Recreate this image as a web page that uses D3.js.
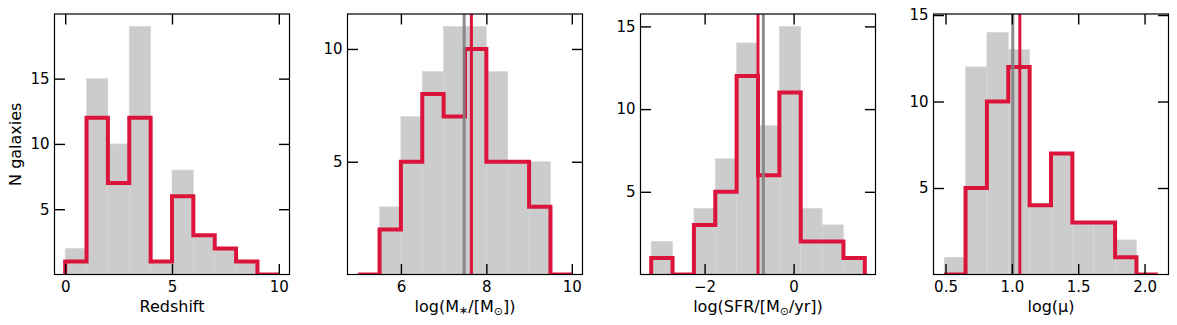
<!DOCTYPE html>
<html>
<head>
<meta charset="utf-8">
<script src="https://cdn.jsdelivr.net/npm/d3@7"></script>
<style>
body { margin: 0; background: #fff; }
text { font-family: "DejaVu Sans", sans-serif; fill: #000; }
.tick text { font-size: 15px; font-family: "DejaVu Sans", sans-serif; }
.axis-label { font-size: 16px; }
</style>
</head>
<body>
<svg width="1177" height="325"></svg>
<script>
//Bin edges and counts: gray = whole sample, red = selected sample.
var zEdges = [0, 1, 2, 3, 4, 5, 6, 7, 8, 9, 10];
var zAll = [2, 15, 10, 19, 1, 8, 3, 2, 1, 0];
var zSel = [1, 12, 7, 12, 1, 6, 3, 2, 1, 0];

var mEdges = [5, 5.5, 6, 6.5, 7, 7.5, 8, 8.5, 9, 9.5, 10];
var mAll = [0, 3, 7, 9, 11, 11, 9, 5, 5, 0];
var mSel = [0, 2, 5, 8, 7, 10, 5, 5, 3, 0];

var sEdges = [-3.2, -2.72, -2.24, -1.76, -1.28, -0.8, -0.32, 0.16, 0.64, 1.12, 1.6];
var sAll = [2, 0, 4, 7, 14, 9, 15, 4, 3, 1];
var sSel = [1, 0, 3, 5, 12, 6, 11, 2, 2, 1];

var uEdges = [0.49, 0.651, 0.812, 0.973, 1.134, 1.295, 1.456, 1.617, 1.778, 1.939, 2.1];
var uAll = [1, 12, 14, 13, 4, 7, 3, 3, 2, 0];
var uSel = [0, 5, 10, 12, 4, 7, 3, 3, 1, 0];

//Medians: [whole sample, selected]; null where not drawn.
var medians = [null, [7.48, 7.65], [-0.68, -0.80], [1.007, 1.06]];

//Axis limits and ticks.
var yMax = [19.95, 11.55, 15.75, 15.06];
var xTicks = [[0, 5, 10], [6, 8, 10], [-2, 0], [0.5, 1.0, 1.5, 2.0]];
var xTickLabels = [['0', '5', '10'], ['6', '8', '10'], ['\u22122', '0'], ['0.5', '1.0', '1.5', '2.0']];
var yTicks = [[5, 10, 15], [5, 10], [5, 10, 15], [5, 10, 15]];

var panels = [
	{edges: zEdges, all: zAll, sel: zSel},
	{edges: mEdges, all: mAll, sel: mSel},
	{edges: sEdges, all: sAll, sel: sSel},
	{edges: uEdges, all: uAll, sel: uSel}
];

var svg = d3.select('svg');
var crimson = '#dc143c';
var lefts = [54.5, 347.5, 640.5, 933.5];
var marginTop = 14, w = 235, h = 260.5;

panels.forEach(function(p, k) {
	var lo = p.edges[0], hi = p.edges[p.edges.length - 1], pad = 0.05 * (hi - lo);
	var x = d3.scaleLinear().domain([lo - pad, hi + pad]).range([0, w]);
	var y = d3.scaleLinear().domain([0, yMax[k]]).range([h, 0]);

	var g = svg.append('g').attr('transform', 'translate(' + lefts[k] + ',' + marginTop + ')');

	g.append('clipPath').attr('id', 'clip' + k)
		.append('rect').attr('width', w).attr('height', h);
	var plot = g.append('g').attr('clip-path', 'url(#clip' + k + ')');

	//Gray histogram.
	plot.selectAll('rect.bar')
		.data(p.all)
		.enter().append('rect')
		.attr('class', 'bar')
		.attr('x', function(d, i) { return x(p.edges[i]); })
		.attr('width', function(d, i) { return x(p.edges[i + 1]) - x(p.edges[i]); })
		.attr('y', function(d) { return y(d); })
		.attr('height', function(d) { return h - y(d); })
		.style('fill', '#cccccc')
		.style('stroke', '#d6d6d6')
		.style('stroke-width', 0.6);

	//Red step outline.
	var pts = [[p.edges[0], 0]];
	p.sel.forEach(function(c, i) {
		pts.push([p.edges[i], c]);
		pts.push([p.edges[i + 1], c]);
	});
	pts.push([p.edges[p.edges.length - 1], 0]);
	plot.append('path')
		.datum(pts)
		.attr('d', d3.line().x(function(d) { return x(d[0]); }).y(function(d) { return y(d[1]); }))
		.style('fill', 'none')
		.style('stroke', crimson)
		.style('stroke-width', 4)
		.style('stroke-linejoin', 'miter');

	//Median lines.
	if (medians[k]) {
		plot.append('line')
			.attr('x1', x(medians[k][0])).attr('x2', x(medians[k][0]))
			.attr('y1', 0).attr('y2', h)
			.style('stroke', '#7f7f7f')
			.style('stroke-width', 3)
			.style('stroke-opacity', 0.9);
		plot.append('line')
			.attr('x1', x(medians[k][1])).attr('x2', x(medians[k][1]))
			.attr('y1', 0).attr('y2', h)
			.style('stroke', crimson)
			.style('stroke-width', 3);
	}

	//Axes with inward ticks on all four sides.
	var fmt = function(d, i) { return xTickLabels[k][i]; };
	g.append('g').attr('transform', 'translate(0,' + h + ')')
		.call(d3.axisBottom(x).tickValues(xTicks[k]).tickFormat(fmt).tickSizeInner(-10.5).tickSizeOuter(0).tickPadding(7));
	g.append('g')
		.call(d3.axisTop(x).tickValues(xTicks[k]).tickFormat('').tickSizeInner(-10.5).tickSizeOuter(0));
	g.append('g')
		.call(d3.axisLeft(y).tickValues(yTicks[k]).tickFormat(d3.format('d')).tickSizeInner(-10.5).tickSizeOuter(0).tickPadding(5));
	g.append('g').attr('transform', 'translate(' + w + ',0)')
		.call(d3.axisRight(y).tickValues(yTicks[k]).tickFormat('').tickSizeInner(-10.5).tickSizeOuter(0));
	g.selectAll('.domain').remove();
	g.selectAll('.tick line').style('stroke-width', 1.4);

	g.append('rect')
		.attr('width', w).attr('height', h)
		.style('fill', 'none').style('stroke', '#000').style('stroke-width', 1.2);

	//x label.
	var lab = g.append('text').attr('class', 'axis-label')
		.attr('x', w / 2).attr('y', 298).attr('text-anchor', 'middle');
	if (k === 0) {
		lab.text('Redshift');
	} else if (k === 1) {
		lab.append('tspan').text('log(M');
		lab.append('tspan').attr('font-size', '11px').attr('dy', 2).text('\u2217');
		lab.append('tspan').attr('dy', -2).text('/[M');
		lab.append('tspan').attr('font-size', '11px').attr('dy', 3).text('\u2299');
		lab.append('tspan').attr('dy', -3).text('])');
	} else if (k === 2) {
		lab.append('tspan').text('log(SFR/[M');
		lab.append('tspan').attr('font-size', '11px').attr('dy', 3).text('\u2299');
		lab.append('tspan').attr('dy', -3).text('/yr])');
	} else {
		lab.text('log(\u03bc)');
	}
});

//y label on the first panel.
svg.append('text').attr('class', 'axis-label')
	.attr('text-anchor', 'middle')
	.attr('transform', 'translate(21,' + (marginTop + h / 2) + ') rotate(-90)')
	.text('N galaxies');
</script>
</body>
</html>
